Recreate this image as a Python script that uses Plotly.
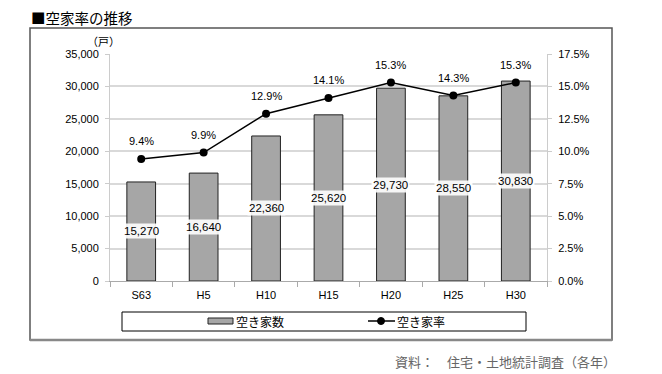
import plotly.graph_objects as go

categories = ["S63", "H5", "H10", "H15", "H20", "H25", "H30"]
vacant_houses = [15270, 16640, 22360, 25620, 29730, 28550, 30830]
vacancy_rate = [9.4, 9.9, 12.9, 14.1, 15.3, 14.3, 15.3]
left_ticks = [0, 5000, 10000, 15000, 20000, 25000, 30000, 35000]
right_ticks = [0, 2.5, 5.0, 7.5, 10.0, 12.5, 15.0, 17.5]

OFF = 8  # default page body margin
W, H = 662 - OFF, 374 - OFF
L, R, T, B = 110, 547, 54, 281  # plot area in window pixels

def px(x):
    return (x - L) / (R - L)

def py(y):
    return (B - y) / (B - T)

FONT = "Liberation Sans, Noto Sans CJK JP, sans-serif"
JFONT = "Noto Sans CJK JP, sans-serif"

fig = go.Figure()
fig.add_trace(go.Bar(
    x=categories, y=vacant_houses, name="空き家数",
    marker=dict(color="#a6a6a6", line=dict(color="#222222", width=1)),
    width=0.46, showlegend=False,
))
fig.add_trace(go.Scatter(
    x=categories, y=vacancy_rate, name="空き家率", yaxis="y2",
    mode="lines+markers",
    line=dict(color="#000000", width=1.5),
    marker=dict(color="#000000", size=8),
    showlegend=False,
))

annotations = []
for c, v in zip(categories, vacant_houses):
    annotations.append(dict(
        x=c, y=v / 2, xref="x", yref="y", text=f"{v:,}", showarrow=False,
        font=dict(family=FONT, size=11.5, color="#000000"),
        bgcolor="rgba(255,255,255,0.9)", borderpad=1,
    ))
for c, r in zip(categories, vacancy_rate):
    annotations.append(dict(
        x=c, y=r, xref="x", yref="y2", text=f"{r:.1f}%", showarrow=False,
        yshift=18, xanchor="center", yanchor="middle",
        font=dict(family=FONT, size=11, color="#000000"),
    ))
annotations.append(dict(x=px(29), y=py(17), xref="paper", yref="paper",
                        text="■空家率の推移", showarrow=False, xanchor="left", yanchor="middle",
                        font=dict(family=JFONT, size=14.5, color="#000000")))
annotations.append(dict(x=px(103), y=py(41), xref="paper", yref="paper",
                        text="（戸）", showarrow=False, xanchor="center", yanchor="middle",
                        font=dict(family=JFONT, size=11, color="#000000")))
annotations.append(dict(x=px(618), y=py(361), xref="paper", yref="paper",
                        text="資料：　住宅・土地統計調査（各年）", showarrow=False,
                        xanchor="right", yanchor="middle",
                        font=dict(family=JFONT, size=13, color="#666666")))
# legend labels
annotations.append(dict(x=px(234), y=py(321), xref="paper", yref="paper",
                        text="空き家数", showarrow=False, xanchor="left", yanchor="middle",
                        font=dict(family=JFONT, size=12, color="#000000")))
annotations.append(dict(x=px(395), y=py(321), xref="paper", yref="paper",
                        text="空き家率", showarrow=False, xanchor="left", yanchor="middle",
                        font=dict(family=JFONT, size=12, color="#000000")))

shapes = [
    dict(type="rect", xref="paper", yref="paper",
         x0=px(30), x1=px(612), y0=py(340), y1=py(28),
         line=dict(color="#555555", width=1.5)),
    dict(type="line", xref="paper", yref="paper",
         x0=px(30), x1=px(612), y0=py(340), y1=py(340),
         line=dict(color="#888888", width=2.5)),
    dict(type="rect", xref="paper", yref="paper",
         x0=px(122), x1=px(526), y0=py(331), y1=py(312),
         line=dict(color="#000000", width=1)),
    # legend symbols
    dict(type="rect", xref="paper", yref="paper",
         x0=px(208), x1=px(233), y0=py(324), y1=py(318),
         fillcolor="#a6a6a6", line=dict(color="#222222", width=1)),
    dict(type="line", xref="paper", yref="paper",
         x0=px(368), x1=px(395), y0=py(321), y1=py(321),
         line=dict(color="#000000", width=1.5)),
    dict(type="circle", xref="paper", yref="paper",
         x0=px(377.5), x1=px(384.5), y0=py(324.5), y1=py(317.5),
         fillcolor="#000000", line=dict(color="#000000", width=1)),
]

fig.update_layout(
    width=W, height=H,
    margin=dict(l=L - OFF, r=W - (R - OFF), t=T - OFF, b=H - (B - OFF), autoexpand=False),
    paper_bgcolor="white", plot_bgcolor="white",
    showlegend=False,
    bargap=0.54,
    xaxis=dict(type="category", showline=True, linecolor="#aaaaaa", linewidth=1,
               ticks="outside", tickson="boundaries", ticklen=5, tickcolor="#aaaaaa",
               ticklabelstandoff=4,
               tickfont=dict(family=FONT, size=11, color="#000000"),
               showgrid=False),
    yaxis=dict(range=[0, 35000], tickvals=left_ticks, tickformat=",d",
               showline=True, linecolor="#cccccc", linewidth=1,
               ticks="outside", ticklen=4, tickcolor="#cccccc",
               gridcolor="#d9d9d9", gridwidth=1.5, zeroline=False,
               ticklabelstandoff=4,
               tickfont=dict(family=FONT, size=11, color="#000000")),
    yaxis2=dict(range=[0, 17.5], tickvals=right_ticks,
                ticktext=[f"{v:.1f}%" for v in right_ticks],
                overlaying="y", side="right", showline=True, linecolor="#cccccc",
                ticks="outside", ticklen=4, tickcolor="#cccccc",
                showgrid=False, zeroline=False, ticklabelstandoff=4,
                tickfont=dict(family=FONT, size=11, color="#000000")),
    annotations=annotations,
    shapes=shapes,
)

fig.write_html("out.html")
